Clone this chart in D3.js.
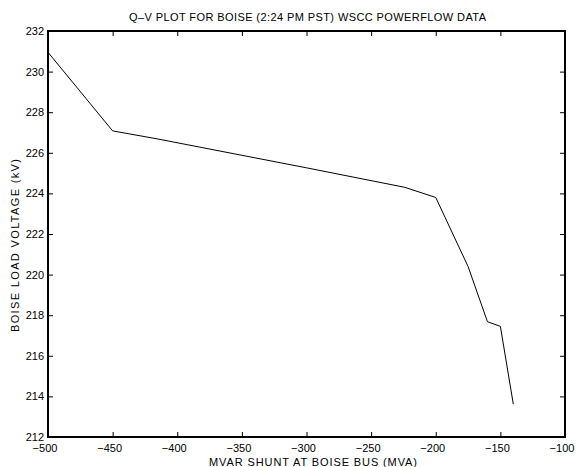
<!DOCTYPE html>
<html>
<head>
<meta charset="utf-8">
<script src="https://cdn.jsdelivr.net/npm/d3@7"></script>
<style>
  body { margin: 0; background: #fff; }
  svg text { font-family: "Liberation Sans", Arial, Helvetica, sans-serif; fill: #000; }
</style>
</head>
<body>
<svg id="chart" width="576" height="467"></svg>
<script>
// Q–V curve: shunt MVAR at the Boise bus vs. Boise load voltage
const shuntMvar = [-500, -450, -415, -300, -224, -200, -175, -160, -150, -140];
const voltageKv = [230.95, 227.08, 226.68, 225.26, 224.3, 223.8, 220.4, 217.68, 217.45, 213.62];
const xTicks = [-500, -450, -400, -350, -300, -250, -200, -150, -100];
const yTicks = [212, 214, 216, 218, 220, 222, 224, 226, 228, 230, 232];

const titleText = "Q\u2013V PLOT FOR BOISE (2:24 PM PST) WSCC POWERFLOW DATA";
const xLabelText = "MVAR SHUNT AT BOISE BUS (MVA)";
const yLabelText = "BOISE LOAD VOLTAGE (kV)";

const svg = d3.select("#chart");
const plotL = 48, plotR = 565, plotT = 31, plotB = 437;

const x = d3.scaleLinear().domain([-500, -100]).range([plotL, plotR]);
const y = d3.scaleLinear().domain([212, 232]).range([plotB, plotT]);

const fmt = d => d3.format("d")(d).replace("-", "\u2212");

// frame around the plot area, drawn as thin filled bars
const bw = 2;
const bars = [
  { x: plotL - bw / 2, y: plotT - bw / 2, w: plotR - plotL + bw, h: bw },
  { x: plotL - bw / 2, y: plotB - bw / 2, w: plotR - plotL + bw, h: bw },
  { x: plotL - bw / 2, y: plotT - bw / 2, w: bw, h: plotB - plotT + bw },
  { x: plotR - bw / 2, y: plotT - bw / 2, w: bw, h: plotB - plotT + bw }
];
svg.append("g").attr("class", "frame").selectAll("rect").data(bars).join("rect")
  .attr("x", d => d.x).attr("y", d => d.y)
  .attr("width", d => d.w).attr("height", d => d.h)
  .attr("fill", "#000");

// bottom axis with labels, ticks pointing inward
const gx = svg.append("g").attr("transform", `translate(0,${plotB})`)
  .call(d3.axisBottom(x).tickValues(xTicks).tickFormat(fmt).tickSizeInner(-5).tickSizeOuter(0).tickPadding(7));
gx.selectAll("text").attr("dx", -3.5);
// top axis, ticks only
const gxt = svg.append("g").attr("transform", `translate(0,${plotT})`)
  .call(d3.axisTop(x).tickValues(xTicks).tickFormat("").tickSizeInner(-5).tickSizeOuter(0));
// left axis with labels
const gy = svg.append("g").attr("transform", `translate(${plotL},0)`)
  .call(d3.axisLeft(y).tickValues(yTicks).tickFormat(fmt).tickSizeInner(-5).tickSizeOuter(0).tickPadding(4));
// right axis, ticks only
const gyr = svg.append("g").attr("transform", `translate(${plotR},0)`)
  .call(d3.axisRight(y).tickValues(yTicks).tickFormat("").tickSizeInner(-5).tickSizeOuter(0));

[gx, gxt, gy, gyr].forEach(g => {
  g.select("path.domain").remove();
  g.selectAll("line").attr("stroke", "#000").attr("stroke-width", 1);
  g.selectAll("text").attr("font-size", 11).attr("fill", "#000");
});

// the Q–V curve
const pts = shuntMvar.map((q, i) => [q, voltageKv[i]]);
svg.append("path")
  .datum(pts)
  .attr("fill", "none")
  .attr("stroke", "#000")
  .attr("stroke-width", 1)
  .attr("stroke-linejoin", "round")
  .attr("d", d3.line().x(d => x(d[0])).y(d => y(d[1])));

// title and axis labels
svg.append("text").attr("x", 307.5).attr("y", 21)
  .attr("text-anchor", "middle").attr("font-size", 11)
  .attr("textLength", 357).attr("lengthAdjust", "spacing").text(titleText);
svg.append("text").attr("x", 313).attr("y", 465.5)
  .attr("text-anchor", "middle").attr("font-size", 11)
  .attr("textLength", 208).attr("lengthAdjust", "spacing").text(xLabelText);
svg.append("text").attr("transform", "translate(19,245.5) rotate(-90)")
  .attr("text-anchor", "middle").attr("font-size", 11)
  .attr("textLength", 173).attr("lengthAdjust", "spacing").text(yLabelText);
</script>
</body>
</html>
